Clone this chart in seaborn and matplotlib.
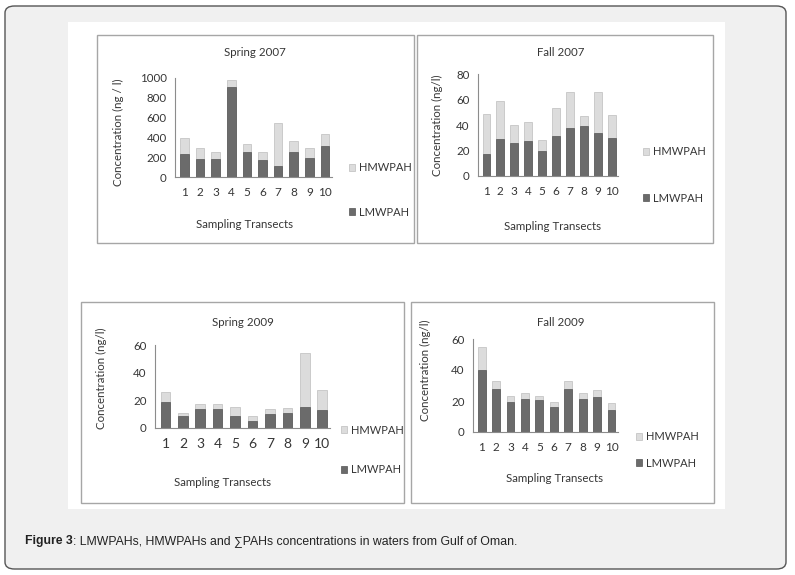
import numpy as np
import pandas as pd
import seaborn as sns
import matplotlib.pyplot as plt
from matplotlib.patches import FancyBboxPatch, Rectangle

# values (ng/l)
transects = ['1', '2', '3', '4', '5', '6', '7', '8', '9', '10']

spring07_lmw = [230, 178, 180, 905, 255, 168, 110, 250, 188, 318]
spring07_hmw = [165, 112, 75, 75, 75, 87, 435, 118, 107, 112]

fall07_lmw = [17.5, 29, 25.5, 27.5, 19.5, 31, 37.5, 39.5, 34, 29.5]
fall07_hmw = [31.5, 30, 14.5, 14.5, 8.5, 22, 28.5, 7.5, 32, 18.5]

spring09_lmw = [19, 9, 14, 14, 9, 5, 10, 10.5, 15, 13]
spring09_hmw = [7, 2, 3.5, 3.5, 6, 4, 4, 4, 39, 14.5]

fall09_lmw = [40, 28, 19.5, 21, 20.5, 16, 27.5, 21, 22.5, 14]
fall09_hmw = [15, 5, 4, 4, 3, 3.5, 5.5, 4, 4.5, 5]

sns.set_style('white')
plt.rcParams['font.family'] = ['Lato', 'DejaVu Sans']

W, H = 795, 575
dark = '#6b6b6b'
light = '#dcdcdc'
txt = '#363636'


def px(x, y):
    return x / W, 1 - y / H


def box(x0, y0, x1, y1):
    return [x0 / W, 1 - y1 / H, (x1 - x0) / W, (y1 - y0) / H]


fig = plt.figure(figsize=(W / 100, H / 100), dpi=100)
fig.patch.set_facecolor('white')

# outer frame + white figure area
fig.patches.append(FancyBboxPatch((5 / W, 1 - 569 / H), 781 / W, 563 / H,
                                  boxstyle='round,pad=0,rounding_size=0.012',
                                  transform=fig.transFigure, facecolor='#f0f0f0',
                                  edgecolor='#555555', linewidth=1.0, zorder=-10))
fig.patches.append(Rectangle((68 / W, 1 - 509 / H), 657 / W, 487 / H,
                             transform=fig.transFigure, facecolor='white',
                             edgecolor='none', zorder=-9))

panels = [
    dict(lmw=spring07_lmw, hmw=spring07_hmw, title='Spring 2007', ylabel='Concentration (ng / l)',
         frame=(97, 35, 414, 243), axes=(175, 78, 332, 177), ymax=1000, step=200,
         title_xy=(255, 53), ylab_xy=(118, 132), xlab_xy=(245, 225),
         leg_xy=(343, 190), leg_sp=3.0, xfs=8.5),
    dict(lmw=fall07_lmw, hmw=fall07_hmw, title='Fall 2007', ylabel='Concentration (ng/l)',
         frame=(417, 35, 713, 243), axes=(478, 74, 618, 176), ymax=80, step=20,
         title_xy=(561, 53), ylab_xy=(437, 125), xlab_xy=(553, 226),
         leg_xy=(637, 175), leg_sp=3.2, xfs=8.5),
    dict(lmw=spring09_lmw, hmw=spring09_hmw, title='Spring 2009', ylabel='Concentration (ng/l)',
         frame=(81, 302, 404, 503), axes=(155, 345, 330, 428), ymax=60, step=20,
         title_xy=(243, 322), ylab_xy=(101, 378), xlab_xy=(223, 483),
         leg_xy=(335, 450), leg_sp=2.6, xfs=10),
    dict(lmw=fall09_lmw, hmw=fall09_hmw, title='Fall 2009', ylabel='Concentration (ng/l)',
         frame=(411, 302, 714, 503), axes=(473, 339, 618, 432), ymax=60, step=20,
         title_xy=(561, 322), ylab_xy=(425, 370), xlab_xy=(555, 479),
         leg_xy=(630, 450), leg_sp=1.4, xfs=8.5),
]

for p in panels:
    fig.patches.append(Rectangle(px(p['frame'][0], p['frame'][3]),
                                 (p['frame'][2] - p['frame'][0]) / W,
                                 (p['frame'][3] - p['frame'][1]) / H,
                                 transform=fig.transFigure, facecolor='white',
                                 edgecolor='#a6a6a6', linewidth=1.0, zorder=-8))

    df = pd.DataFrame({'Transect': transects, 'LMWPAH': p['lmw'], 'HMWPAH': p['hmw']})
    df['Total'] = df['LMWPAH'] + df['HMWPAH']

    ax = fig.add_axes(box(*p['axes']))
    ax.set_facecolor('none')
    sns.barplot(data=df, x='Transect', y='Total', color=light, saturation=1, width=0.55,
                edgecolor='#bdbdbd', linewidth=0.5, label='HMWPAH', ax=ax)
    sns.barplot(data=df, x='Transect', y='LMWPAH', color=dark, saturation=1, width=0.55,
                edgecolor='#555555', linewidth=0.5, label='LMWPAH', ax=ax)

    ax.set_ylim(0, p['ymax'])
    ax.set_yticks(np.arange(0, p['ymax'] + 1, p['step']))
    ax.set_xlim(-0.6, 9.45)
    ax.set_xlabel('')
    ax.set_ylabel('')
    sns.despine(ax=ax)
    for s in ['left', 'bottom']:
        ax.spines[s].set_color('#8c8c8c')
        ax.spines[s].set_linewidth(0.8)
    ax.tick_params(axis='y', labelsize=8.3, colors=txt, length=3, width=0.6, pad=3)
    ax.tick_params(axis='y', color='#8c8c8c')
    ax.tick_params(axis='x', labelsize=p['xfs'], colors=txt, length=0, pad=7)

    fig.text(*px(*p['title_xy']), p['title'], ha='center', va='center', fontsize=8.3, color=txt)
    fig.text(*px(*p['ylab_xy']), p['ylabel'], ha='center', va='center', rotation=90,
             fontsize=8.3, color=txt)
    fig.text(*px(*p['xlab_xy']), 'Sampling Transects', ha='center', va='center',
             fontsize=8.3, color=txt)

    ax.legend(loc='center left', bbox_to_anchor=px(*p['leg_xy']), bbox_transform=fig.transFigure,
              frameon=False, fontsize=8, labelspacing=p['leg_sp'], handlelength=0.6,
              handleheight=0.6, handletextpad=0.3, borderpad=0, labelcolor=txt)

# caption
cap_font = ['Liberation Sans Narrow', 'Liberation Sans', 'DejaVu Sans']
t1 = fig.text(25 / W, 1 - 541 / H, 'Figure 3', ha='left', va='center', fontsize=8.8,
              fontweight='bold', family=cap_font, color='#222222')
fig.canvas.draw()
bb = t1.get_window_extent()
fig.text(bb.x1 / W, 1 - 541 / H,
         ': LMWPAHs, HMWPAHs and \u2211PAHs concentrations in waters from Gulf of Oman.',
         ha='left', va='center', fontsize=8.8, family=cap_font, color='#222222')

fig.savefig('out.png', dpi=100)
